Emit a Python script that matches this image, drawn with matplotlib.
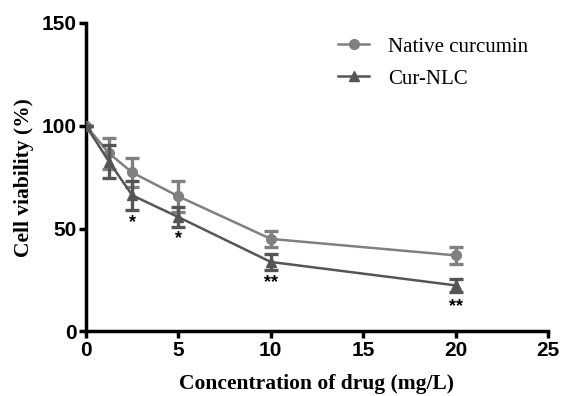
import matplotlib
matplotlib.use("Agg")
import matplotlib.pyplot as plt
from matplotlib.lines import Line2D

conc = [0, 1.25, 2.5, 5, 10, 20]
native = [100, 86.6, 77.3, 65.7, 45.0, 37.0]
native_err = [0, 7.5, 7.0, 7.5, 3.8, 4.2]
nlc = [100, 82.5, 66.2, 55.6, 33.8, 22.4]
nlc_err = [0, 8.0, 7.0, 5.0, 4.0, 3.2]
stars_x = [2.5, 5, 10, 20]
stars_lbl = ["*", "*", "**", "**"]
stars_y = [53, 45, 24, 12]

xticks = [0, 5, 10, 15, 20, 25]
yticks = [0, 50, 100, 150]

fig = plt.figure(figsize=(5.61, 3.96), dpi=100)
ax = fig.add_axes([0.1533, 0.163, 0.8235, 0.779])

c_nat = "#808080"
c_nlc = "#555555"
ax.errorbar(conc, native, yerr=native_err, color=c_nat, marker="o", ms=7,
            lw=1.8, elinewidth=2.4, capsize=5, capthick=2.4, zorder=3)
ax.errorbar(conc, nlc, yerr=nlc_err, color=c_nlc, marker="^", ms=7.5,
            lw=1.8, elinewidth=2.4, capsize=5, capthick=2.4, zorder=4)

for x, y, s in zip(stars_x, stars_y, stars_lbl):
    ax.text(x, y, s, ha="center", va="center", fontsize=13, fontweight="bold",
            fontfamily="Liberation Sans", color="black")

ax.set_xlim(0, 25)
ax.set_ylim(0, 150)
ax.set_xticks(xticks)
ax.set_yticks(yticks)
for sp in ["top", "right"]:
    ax.spines[sp].set_visible(False)
for sp in ["left", "bottom"]:
    ax.spines[sp].set_linewidth(2.5)
ax.tick_params(width=2.5, length=5, direction="out", pad=2)
for lbl in ax.get_xticklabels() + ax.get_yticklabels():
    lbl.set_fontfamily("Liberation Sans")
    lbl.set_fontweight("bold")
    lbl.set_fontsize(15)

ax.set_xlabel("Concentration of drug (mg/L)", fontfamily="Liberation Serif",
              fontweight="bold", fontsize=15.5, labelpad=10)
ax.set_ylabel("Cell viability (%)", fontfamily="Liberation Serif",
              fontweight="bold", fontsize=15.5, labelpad=5)

handles = [Line2D([], [], color=c_nat, marker="o", ms=7, lw=1.8),
           Line2D([], [], color=c_nlc, marker="^", ms=7.5, lw=1.8)]
ax.legend(handles, ["Native curcumin", "Cur-NLC"], loc="upper left",
          bbox_to_anchor=(0.505, 1.015), frameon=False,
          prop={"family": "Liberation Serif", "size": 15}, handlelength=1.5,
          labelspacing=0.6, handletextpad=0.9)

fig.savefig("out.png", dpi=100)
